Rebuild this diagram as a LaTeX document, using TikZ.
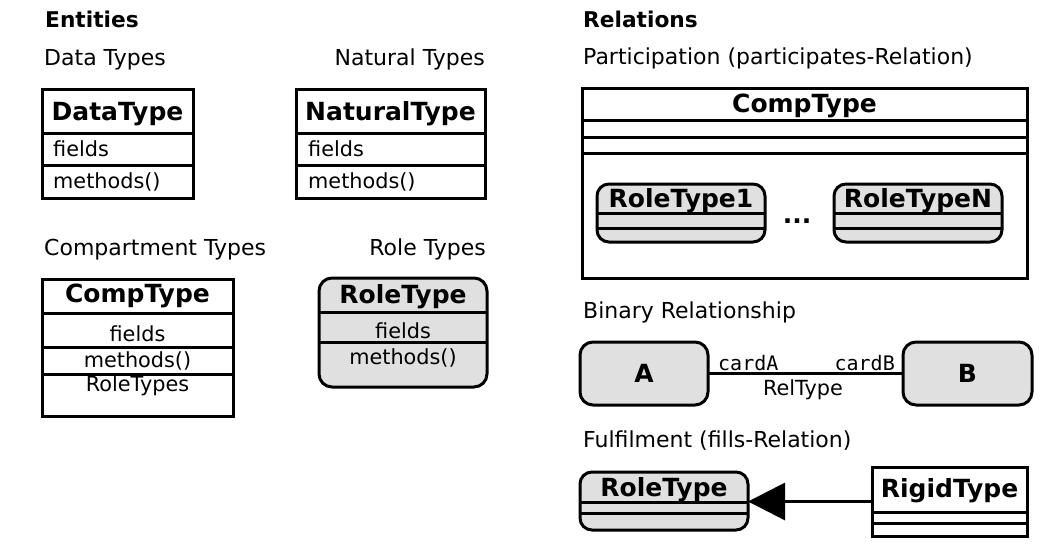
\documentclass[tikz,border=0pt]{standalone}
\usepackage{fontspec}
\setmainfont{DejaVu Sans}
\newfontfamily\cardfont{DejaVu Sans Mono}
\usepackage{xcolor}
\usetikzlibrary{arrows.meta}
\definecolor{rolegray}{RGB}{224,224,224}

\begin{document}
\begin{tikzpicture} [x=1pt, y=-1pt,
    caption/.style={inner sep=0pt, font=\fontsize{22}{26}\selectfont},
    heading/.style={caption, font=\fontsize{21.7}{26}\selectfont\bfseries},
    cls/.style={draw, line width=3pt, outer sep=0pt, inner sep=0pt, fill=white, anchor=north west},
    role/.style={cls, fill=rolegray, rounded corners=13pt},
    sepline/.style={line width=3pt},
    clsname/.style={inner sep=0pt, anchor=base, font=\fontsize{25}{29}\selectfont\bfseries},
    member/.style={inner sep=0pt, anchor=base, font=\fontsize{20.8}{24}\selectfont}
  ]
  \useasboundingbox (0,0) rectangle (1055,555);

  % captions
  \node[heading, anchor=base west] (entities) at (45,27) {Entities};
  \node[heading, anchor=base west] (relations) at (583,27) {Relations};
  \node[caption, anchor=base west] (datacap) at (44,65) {Data Types};
  \node[caption, anchor=base east] (naturalcap) at (485,65) {Natural Types};
  \node[caption, anchor=base west] (compcap) at (44,255) {Compartment Types};
  \node[caption, anchor=base east] (rolecap) at (486,255) {Role Types};
  \node[caption, anchor=base west] (partcap) at (583,64) {Participation (participates-Relation)};
  \node[caption, anchor=base west] (bincap) at (583,318) {Binary Relationship};
  \node[caption, anchor=base west] (fillcap) at (583,447) {Fulfilment (fills-Relation)};

  % entities
  \node[cls, minimum width=151, minimum height=109] (datatype) at (42,89) {};
  \draw[sepline] (datatype.west |- 0,133) -- (datatype.east |- 0,133);
  \draw[sepline] (datatype.west |- 0,165) -- (datatype.east |- 0,165);
  \node[clsname] (dt-name) at (117.5,120) {DataType};
  \node[member, anchor=base west] (dt-fields) at (53,156) {fields};
  \node[member, anchor=base west] (dt-methods) at (53,188) {methods()};

  \node[cls, minimum width=189, minimum height=109] (naturaltype) at (296,89) {};
  \draw[sepline] (naturaltype.west |- 0,133) -- (naturaltype.east |- 0,133);
  \draw[sepline] (naturaltype.west |- 0,165) -- (naturaltype.east |- 0,165);
  \node[clsname] (nt-name) at (390.5,120) {NaturalType};
  \node[member, anchor=base west] (nt-fields) at (308,156) {fields};
  \node[member, anchor=base west] (nt-methods) at (308,188) {methods()};

  \node[cls, minimum width=191, minimum height=137] (comptype) at (42,279) {};
  \draw[sepline] (comptype.west |- 0,313) -- (comptype.east |- 0,313);
  \draw[sepline] (comptype.west |- 0,347) -- (comptype.east |- 0,347);
  \draw[sepline] (comptype.west |- 0,374) -- (comptype.east |- 0,374);
  \node[clsname] (ct-name) at (137.5,302) {CompType};
  \node[member] (ct-fields) at (137.5,341) {fields};
  \node[member] (ct-methods) at (137.5,367) {methods()};
  \node[member] (ct-roles) at (137.5,391) {RoleTypes};

  \node[role, minimum width=168, minimum height=109] (roletype) at (319,278) {};
  \draw[sepline] (roletype.west |- 0,312) -- (roletype.east |- 0,312);
  \draw[sepline] (roletype.west |- 0,342) -- (roletype.east |- 0,342);
  \node[clsname] (rt-name) at (403,303) {RoleType};
  \node[member] (rt-fields) at (403,338) {fields};
  \node[member] (rt-methods) at (403,364) {methods()};

  % participation
  \node[cls, minimum width=445, minimum height=190] (partcomp) at (582,88) {};
  \draw[sepline] (partcomp.west |- 0,120) -- (partcomp.east |- 0,120);
  \draw[sepline] (partcomp.west |- 0,137) -- (partcomp.east |- 0,137);
  \draw[sepline] (partcomp.west |- 0,153) -- (partcomp.east |- 0,153);
  \node[clsname] (pc-name) at (804.5,112) {CompType};

  \node[role, rounded corners=12pt, minimum width=168, minimum height=58] (role1) at (597,184) {};
  \draw[sepline] (role1.west |- 0,213) -- (role1.east |- 0,213);
  \draw[sepline] (role1.west |- 0,228) -- (role1.east |- 0,228);
  \node[clsname] (r1-name) at (681,207) {RoleType1};

  \node[role, rounded corners=12pt, minimum width=168, minimum height=58] (rolen) at (834,184) {};
  \draw[sepline] (rolen.west |- 0,213) -- (rolen.east |- 0,213);
  \draw[sepline] (rolen.west |- 0,228) -- (rolen.east |- 0,228);
  \node[clsname] (rn-name) at (918,207) {RoleTypeN};

  \node[clsname] (dots) at (797,223) {...};

  % binary relationship
  \node[role, minimum width=128, minimum height=63, font=\fontsize{25}{29}\selectfont\bfseries] (a) at (580,342) {A};
  \node[role, minimum width=129, minimum height=63, font=\fontsize{25}{29}\selectfont\bfseries] (b) at (903,342) {B};
  \draw[sepline] (a) -- (b);
  \node[member, anchor=base west, font=\fontsize{20}{24}\cardfont] (carda) at (718,370) {cardA};
  \node[member, anchor=base east, font=\fontsize{20}{24}\cardfont] (cardb) at (895,370) {cardB};
  \node[member] (reltype) at (803,395) {RelType};

  % fulfilment
  \node[role, rounded corners=12pt, minimum width=168, minimum height=58] (fillrole) at (580,472) {};
  \draw[sepline] (fillrole.west |- 0,502) -- (fillrole.east |- 0,502);
  \draw[sepline] (fillrole.west |- 0,513) -- (fillrole.east |- 0,513);
  \node[clsname] (fr-name) at (664,496) {RoleType};

  \node[cls, minimum width=155, minimum height=69] (rigid) at (872,467) {};
  \draw[sepline] (rigid.west |- 0,512) -- (rigid.east |- 0,512);
  \draw[sepline] (rigid.west |- 0,523) -- (rigid.east |- 0,523);
  \node[clsname] (rg-name) at (949.5,497) {RigidType};

  \draw[sepline, -{Triangle[length=37pt, width=37pt]}] (rigid.west) -- (fillrole.east |- rigid.west);
\end{tikzpicture}
\end{document}
